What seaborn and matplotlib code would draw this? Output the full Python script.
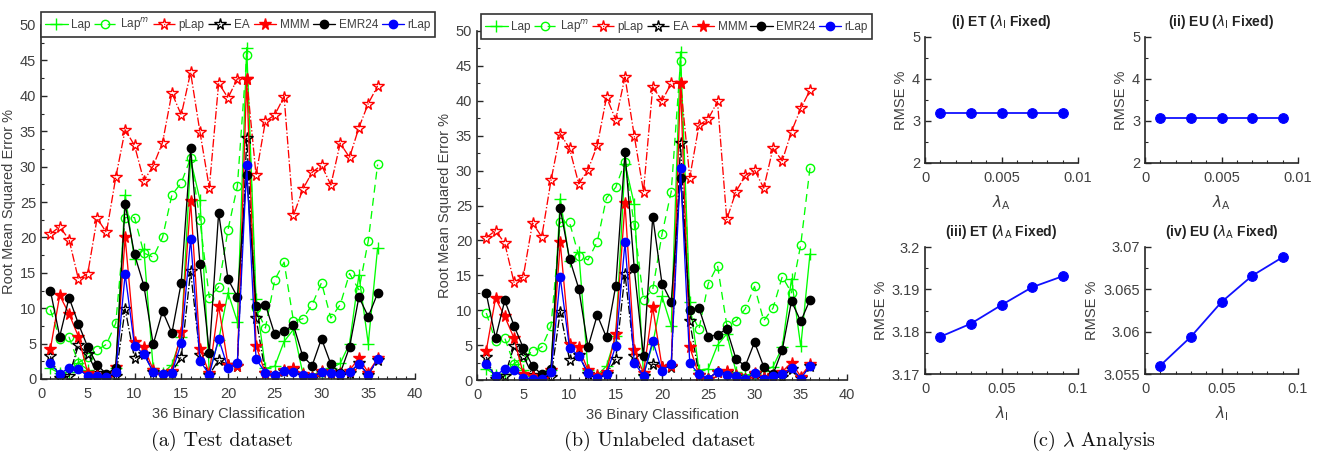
import pandas as pd
import seaborn as sns
import matplotlib.pyplot as plt
from matplotlib.ticker import MultipleLocator, FuncFormatter

# ---------------- data ----------------
tasks = list(range(1, 37))
methods = ['Lap', 'Lap$^{m}$', 'pLap', 'EA', 'MMM', 'EMR24', 'rLap']

# (a) Test dataset
lap_a = [1.5, 0.8, 1.0, 2.3, 1.3, 0.5, 0.3, 1.5, 26.0, 16.9, 18.3, 1.5, 0.8, 2.0, 6.0, 31.0, 25.3, 1.0,
         5.5, 12.2, 8.1, 46.8, 11.3, 1.5, 1.8, 5.3, 7.0, 0.8, 0.6, 1.0, 1.5, 2.2, 5.0, 14.7, 5.0, 18.5]
lapm_a = [9.8, 5.7, 5.9, 2.3, 3.1, 4.1, 4.9, 7.9, 22.8, 22.8, 17.8, 17.2, 20.0, 26.0, 27.7, 31.2, 22.4, 11.5,
          13.0, 21.1, 27.2, 45.7, 10.0, 7.2, 14.0, 16.5, 8.2, 8.5, 10.5, 13.6, 8.6, 10.5, 14.9, 12.6, 19.5, 30.3]
plap_a = [20.5, 21.5, 19.7, 14.1, 14.9, 22.7, 20.7, 28.5, 35.2, 33.0, 28.0, 30.1, 33.4, 40.4, 37.3, 43.3, 34.9, 27.0,
          41.8, 39.7, 42.4, 42.4, 28.8, 36.4, 37.3, 39.9, 23.1, 26.8, 29.2, 30.2, 27.4, 33.3, 31.3, 35.5, 38.9, 41.4]
ea_a = [3.2, 0.2, 0.4, 4.8, 3.5, 0.8, 0.3, 0.4, 9.9, 2.9, 3.6, 1.0, 0.5, 1.0, 3.1, 15.2, 3.4, 0.6,
        2.7, 2.0, 1.9, 34.0, 8.6, 0.8, 0.4, 1.2, 1.4, 0.6, 0.2, 1.0, 0.9, 0.6, 0.9, 2.2, 0.6, 2.7]
mmm_a = [4.2, 11.8, 9.2, 6.0, 0.8, 0.6, 0.2, 1.7, 20.0, 5.2, 4.5, 1.3, 0.6, 1.2, 6.6, 25.2, 4.3, 0.8,
         10.3, 2.0, 1.9, 42.4, 4.7, 0.8, 0.4, 1.3, 1.5, 0.7, 0.3, 1.2, 1.0, 0.8, 1.2, 3.0, 0.9, 2.9]
emr_a = [12.5, 6.0, 11.5, 7.8, 4.5, 2.0, 0.7, 1.6, 24.7, 17.6, 13.2, 4.9, 9.6, 6.5, 13.6, 32.6, 16.3, 3.7,
         23.5, 14.1, 11.6, 28.8, 10.3, 10.5, 6.3, 6.8, 7.6, 3.2, 1.9, 5.7, 2.1, 0.8, 4.5, 11.6, 8.8, 12.1]
rlap_a = [2.2, 0.7, 1.6, 1.4, 0.4, 0.4, 0.3, 1.0, 14.8, 4.7, 3.5, 1.0, 0.7, 0.9, 5.1, 19.8, 2.6, 0.6,
          5.7, 1.5, 2.3, 30.2, 2.8, 0.9, 0.5, 1.2, 1.0, 0.6, 0.3, 1.0, 0.9, 0.7, 1.0, 2.1, 0.6, 2.8]

# (b) Unlabeled dataset
lap_b = [1.6, 0.7, 0.9, 2.3, 1.4, 0.6, 0.3, 1.4, 26.0, 17.0, 18.3, 1.4, 0.7, 2.0, 6.3, 31.0, 25.2, 0.7,
         5.2, 12.0, 7.7, 47.0, 11.2, 1.4, 1.6, 5.0, 6.6, 1.2, 0.7, 0.9, 1.3, 1.9, 4.7, 14.5, 4.8, 18.1]
lapm_b = [9.6, 5.6, 6.0, 2.3, 3.3, 4.1, 4.7, 7.7, 22.6, 22.6, 17.8, 17.2, 19.8, 26.1, 27.6, 31.3, 22.2, 11.5,
          13.0, 20.9, 27.0, 45.7, 10.0, 7.3, 13.8, 16.4, 7.9, 8.5, 10.2, 13.4, 8.5, 10.3, 14.8, 12.5, 19.4, 30.4]
plap_b = [20.4, 21.4, 19.6, 14.0, 14.8, 22.5, 20.5, 28.6, 35.3, 33.2, 28.1, 30.1, 33.6, 40.5, 37.3, 43.4, 35.0, 27.0,
          42.0, 40.0, 42.5, 42.5, 29.0, 36.5, 37.4, 39.9, 23.0, 27.0, 29.3, 30.1, 27.5, 33.2, 31.4, 35.6, 38.9, 41.5]
ea_b = [3.3, 0.1, 0.6, 4.8, 3.5, 0.7, 0.2, 0.5, 9.8, 2.9, 3.6, 0.9, 0.4, 0.9, 3.0, 15.2, 3.4, 0.6,
        2.3, 1.9, 1.9, 33.9, 8.4, 0.7, 0.2, 1.2, 1.2, 0.6, 0.1, 0.9, 0.3, 0.6, 0.4, 1.6, 0.3, 2.0]
mmm_b = [4.2, 11.7, 9.1, 6.0, 0.9, 0.6, 0.2, 1.4, 19.7, 5.2, 4.7, 1.4, 0.7, 1.2, 6.6, 25.3, 4.3, 1.0,
         10.4, 1.9, 2.0, 42.5, 4.7, 0.7, 0.2, 1.2, 1.3, 0.7, 0.1, 1.0, 0.5, 0.7, 1.2, 2.5, 0.5, 2.3]
emr_b = [12.4, 6.0, 11.4, 7.8, 4.6, 2.0, 0.8, 1.6, 24.6, 17.4, 13.1, 4.7, 9.3, 6.1, 13.5, 32.6, 16.0, 3.4,
         23.4, 13.8, 11.2, 29.0, 10.1, 10.3, 6.2, 6.5, 7.3, 3.0, 2.0, 5.4, 1.9, 0.8, 4.3, 11.3, 8.4, 11.5]
rlap_b = [2.3, 0.6, 1.6, 1.5, 0.3, 0.2, 0.2, 1.1, 14.7, 4.6, 3.5, 1.0, 0.3, 0.8, 4.9, 19.7, 2.5, 0.6,
          5.6, 1.3, 2.3, 30.4, 2.4, 0.8, 0.2, 1.2, 0.7, 0.6, 0.1, 1.0, 0.2, 0.6, 0.8, 1.7, 0.2, 2.0]

# (c) lambda analysis
lam_a = [0.001, 0.003, 0.005, 0.007, 0.009]
lam_i = [0.01, 0.03, 0.05, 0.07, 0.09]
et_lam_i_fixed = [3.19, 3.19, 3.19, 3.19, 3.19]
eu_lam_i_fixed = [3.065, 3.065, 3.065, 3.065, 3.065]
et_lam_a_fixed = [3.1788, 3.1819, 3.1863, 3.1905, 3.1931]
eu_lam_a_fixed = [3.0560, 3.0594, 3.0635, 3.0666, 3.0688]

# ---------------- style ----------------
sns.set_style('ticks')
plt.rcParams['font.family'] = ['Liberation Sans', 'DejaVu Sans']
plt.rcParams['mathtext.fontset'] = 'dejavusans'

styles = {
    'Lap':       dict(color='#00ff00', ls='-',  marker='+', ms=8, mfc='none'),
    'Lap$^{m}$': dict(color='#00ff00', ls=(0, (6, 4)), marker='o', ms=6, mfc='none'),
    'pLap':      dict(color='#ff0000', ls='-.', marker='*', ms=8.5, mfc='none'),
    'EA':        dict(color='#000000', ls='-.', marker='*', ms=8.5, mfc='none'),
    'MMM':       dict(color='#ff0000', ls='-',  marker='*', ms=8.5, mfc='#ff0000'),
    'EMR24':     dict(color='#000000', ls='-',  marker='o', ms=6, mfc='#000000'),
    'rLap':      dict(color='#0000ff', ls='-',  marker='o', ms=6, mfc='#0000ff'),
}
axcol = '#262626'
txtcol = '#404040'

W, H = 1320, 459
fig = plt.figure(figsize=(W / 100, H / 100), dpi=100)


def box(l, t, r, b):
    return [l / W, 1 - b / H, (r - l) / W, (b - t) / H]


def style_axes(ax):
    sns.despine(ax=ax)
    for s in ['left', 'bottom']:
        ax.spines[s].set_color(axcol)
        ax.spines[s].set_linewidth(1.2)
    ax.tick_params(which='both', direction='in', colors=axcol, labelcolor=txtcol, labelsize=10.5)
    ax.tick_params(which='major', length=4, width=1)
    ax.tick_params(which='minor', length=2.5, width=0.8)
    ax.tick_params(axis='x', pad=6)


def rmse_panel(rect, series, legend_rect):
    ax = fig.add_axes(rect)
    frames = [pd.DataFrame({'task': tasks, 'rmse': vals, 'method': m}) for m, vals in zip(methods, series)]
    df = pd.concat(frames)
    for m in methods:
        st = styles[m]
        sns.lineplot(data=df[df['method'] == m], x='task', y='rmse', ax=ax, label=m,
                     color=st['color'], linestyle=st['ls'], marker=st['marker'], markersize=st['ms'],
                     markerfacecolor=st['mfc'], markeredgecolor=st['color'], markeredgewidth=1.0,
                     linewidth=0.95)
    ax.set_xlim(0, 40)
    ax.set_ylim(0, 50)
    ax.xaxis.set_major_locator(MultipleLocator(5))
    ax.xaxis.set_minor_locator(MultipleLocator(1))
    ax.yaxis.set_major_locator(MultipleLocator(5))
    ax.yaxis.set_minor_locator(MultipleLocator(2.5))
    style_axes(ax)
    ax.set_xlabel('36 Binary Classification', color=txtcol, fontsize=10.5, labelpad=4)
    ax.set_ylabel('Root Mean Squared Error %', color=txtcol, fontsize=10.5, labelpad=3)
    l, t, r, b = legend_rect
    leg = ax.legend(ncol=7, loc='lower left', mode='expand', borderaxespad=0,
                    bbox_to_anchor=(l / W, 1 - b / H, (r - l) / W, (b - t) / H),
                    bbox_transform=fig.transFigure, fontsize=8.5, frameon=True, fancybox=False,
                    framealpha=1, edgecolor='#333333', handlelength=1.9, handletextpad=0.3,
                    columnspacing=0.3, borderpad=0.35)
    leg.get_frame().set_linewidth(1.2)
    for txt in leg.get_texts():
        txt.set_color(txtcol)
    return ax


rmse_panel(box(41, 25, 415, 379), [lap_a, lapm_a, plap_a, ea_a, mmm_a, emr_a, rlap_a], (41, 12, 435, 37))
rmse_panel(box(477, 31, 847, 380), [lap_b, lapm_b, plap_b, ea_b, mmm_b, emr_b, rlap_b], (481, 14, 872, 39))

fmt = FuncFormatter(lambda v, p: '{:g}'.format(round(v, 6)))


def lam_panel(rect, x, y, xlim, xmaj, xmin, ylim, ymaj, ymin, title, xlabel):
    ax = fig.add_axes(rect)
    sns.lineplot(x=x, y=y, ax=ax, color='#1010ff', marker='o', markersize=7,
                 markerfacecolor='#0000ff', markeredgecolor='#0000ff', linewidth=1.3)
    ax.set_xlim(*xlim)
    ax.set_ylim(*ylim)
    ax.xaxis.set_major_locator(MultipleLocator(xmaj))
    ax.xaxis.set_minor_locator(MultipleLocator(xmin))
    ax.yaxis.set_major_locator(MultipleLocator(ymaj))
    ax.yaxis.set_minor_locator(MultipleLocator(ymin))
    ax.xaxis.set_major_formatter(fmt)
    ax.yaxis.set_major_formatter(fmt)
    style_axes(ax)
    ax.set_title(title, fontsize=10, fontweight='bold', color='#222222', pad=8)
    ax.set_xlabel(xlabel, fontsize=11, color=txtcol, labelpad=6)
    ax.set_ylabel('RMSE %', fontsize=10.5, color=txtcol, labelpad=3)
    return ax


lam_panel(box(925, 37, 1078, 163), lam_a, et_lam_i_fixed, (0, 0.01), 0.005, 0.001,
          (2, 5), 1, 0.5, r'(i) ET ($\lambda_{\mathrm{I}}$ Fixed)', r'$\lambda_{\mathrm{A}}$')
lam_panel(box(1145, 37, 1298, 163), lam_a, eu_lam_i_fixed, (0, 0.01), 0.005, 0.001,
          (2, 5), 1, 0.5, r'(ii) EU ($\lambda_{\mathrm{I}}$ Fixed)', r'$\lambda_{\mathrm{A}}$')
lam_panel(box(925, 247, 1078, 374), lam_i, et_lam_a_fixed, (0, 0.1), 0.05, 0.01,
          (3.17, 3.2), 0.01, 0.005, r'(iii) ET ($\lambda_{\mathrm{A}}$ Fixed)', r'$\lambda_{\mathrm{I}}$')
lam_panel(box(1145, 247, 1298, 374), lam_i, eu_lam_a_fixed, (0, 0.1), 0.05, 0.01,
          (3.055, 3.07), 0.005, 0.0025, r'(iv) EU ($\lambda_{\mathrm{A}}$ Fixed)', r'$\lambda_{\mathrm{I}}$')

# captions
cap = dict(ha='center', va='center', fontsize=14.5, family='cmr10', color='#111111')
fig.text(222 / W, 1 - 441 / H, '(a) Test dataset', **cap)
fig.text(660 / W, 1 - 441 / H, '(b) Unlabeled dataset', **cap)
fig.text(1093 / W, 1 - 441 / H, r'(c) $\lambda$ Analysis', math_fontfamily='cm', **cap)

fig.savefig('out.png', dpi=100)
